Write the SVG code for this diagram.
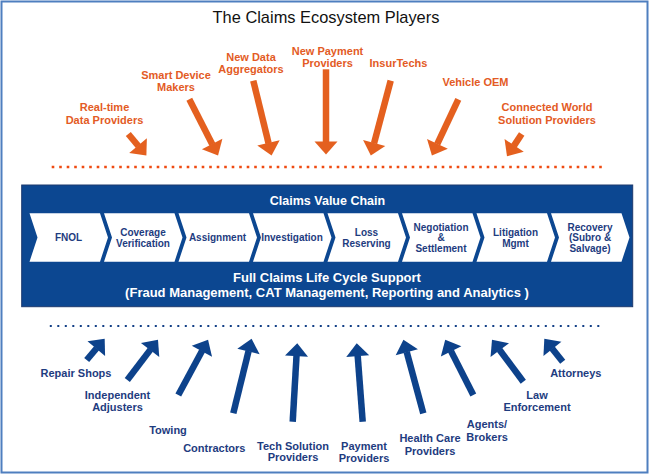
<svg xmlns="http://www.w3.org/2000/svg" width="650" height="474" viewBox="0 0 650 474">
<defs>
<style>
text{font-family:"Liberation Sans",Arial,sans-serif;text-anchor:middle}
.title{font-size:16.4px;fill:#111}
.ot{font-size:11px;font-weight:bold;fill:#e35b25}
.bt{font-size:11px;font-weight:bold;fill:#1e3c80}
.ct{font-size:10px;font-weight:bold;fill:#1e3c80}
.wt{font-weight:bold;fill:#fff}
.chev{fill:#fff}
.oa{stroke:#e4601f;stroke-width:6.5;fill:none}
.ba{stroke:#0d428b;stroke-width:6.5;fill:none}
</style>
<marker id="ho" markerUnits="userSpaceOnUse" markerWidth="14" markerHeight="23" refX="0.5" refY="11.5" orient="auto" overflow="visible"><path d="M0,0 L13,11.5 L0,23 z" fill="#e4601f"/></marker>
<marker id="hb" markerUnits="userSpaceOnUse" markerWidth="14" markerHeight="23" refX="0.5" refY="11.5" orient="auto" overflow="visible"><path d="M0,0 L13,11.5 L0,23 z" fill="#0d428b"/></marker>
<polygon id="chv" points="0,0 70.5,0 78.5,24.2 70.5,48.4 0,48.4 8,24.2"/>
</defs>
<rect x="1.5" y="1.5" width="646" height="471" fill="#fff" stroke="#4f7fbf" stroke-width="2"/>
<text class="title" x="326" y="23">The Claims Ecosystem Players</text>

<g id="top-providers">
<g id="n-realtime"><text class="ot" x="104.5" y="111">Real-time</text><text class="ot" x="104.5" y="123.5">Data Providers</text></g>
<g id="n-smart"><text class="ot" x="176" y="79">Smart Device</text><text class="ot" x="176" y="91">Makers</text></g>
<g id="n-newdata"><text class="ot" x="251" y="61">New Data</text><text class="ot" x="251" y="73.3">Aggregators</text></g>
<g id="n-newpay"><text class="ot" x="327.5" y="55">New Payment</text><text class="ot" x="327.5" y="67.3">Providers</text></g>
<g id="n-insurtech"><text class="ot" x="398.5" y="66.5">InsurTechs</text></g>
<g id="n-vehicle"><text class="ot" x="475.5" y="85.5">Vehicle OEM</text></g>
<g id="n-connected"><text class="ot" x="547" y="111">Connected World</text><text class="ot" x="547" y="124">Solution Providers</text></g>
</g>

<g id="chain">
<rect x="21.7" y="185" width="611" height="121.7" fill="#0c4791" stroke="#1d3a6e" stroke-width="1"/>
<text class="wt" x="327.5" y="204.5" font-size="12.5">Claims Value Chain</text>
<g id="c-fnol"><use href="#chv" class="chev" x="29.5" y="213.3"/><text class="ct" x="68.5" y="240.5">FNOL</text></g>
<g id="c-coverage"><use href="#chv" class="chev" x="104" y="213.3"/><text class="ct" x="143" y="235.5">Coverage</text><text class="ct" x="143" y="246.5">Verification</text></g>
<g id="c-assign"><use href="#chv" class="chev" x="178.5" y="213.3"/><text class="ct" x="217.5" y="240.5">Assignment</text></g>
<g id="c-invest"><use href="#chv" class="chev" x="253" y="213.3"/><text class="ct" x="292" y="240.5">Investigation</text></g>
<g id="c-loss"><use href="#chv" class="chev" x="327.5" y="213.3"/><text class="ct" x="366.5" y="235.5">Loss</text><text class="ct" x="366.5" y="246.5">Reserving</text></g>
<g id="c-nego"><use href="#chv" class="chev" x="402" y="213.3"/><text class="ct" x="441" y="230.5">Negotiation</text><text class="ct" x="441" y="241">&amp;</text><text class="ct" x="441" y="252">Settlement</text></g>
<g id="c-litig"><use href="#chv" class="chev" x="476.5" y="213.3"/><text class="ct" x="515.5" y="235.5">Litigation</text><text class="ct" x="515.5" y="246.5">Mgmt</text></g>
<g id="c-recov"><use href="#chv" class="chev" x="551" y="213.3"/><text class="ct" x="590" y="230.5">Recovery</text><text class="ct" x="590" y="241">(Subro &amp;</text><text class="ct" x="590" y="252">Salvage)</text></g>
<text class="wt" x="327" y="281.5" font-size="13">Full Claims Life Cycle Support</text>
<text class="wt" x="327" y="297" font-size="13">(Fraud Management, CAT Management, Reporting and Analytics )</text>
</g>

<g id="bottom-players">
<g id="n-repair"><text class="bt" x="76" y="376.7">Repair Shops</text></g>
<g id="n-indep"><text class="bt" x="117.5" y="399">Independent</text><text class="bt" x="117.5" y="411.3">Adjusters</text></g>
<g id="n-towing"><text class="bt" x="168" y="434">Towing</text></g>
<g id="n-contract"><text class="bt" x="214.3" y="451.7">Contractors</text></g>
<g id="n-tech"><text class="bt" x="293" y="450">Tech Solution</text><text class="bt" x="293" y="461.3">Providers</text></g>
<g id="n-payment"><text class="bt" x="364" y="450">Payment</text><text class="bt" x="364" y="462">Providers</text></g>
<g id="n-health"><text class="bt" x="430" y="442.3">Health Care</text><text class="bt" x="430" y="454.7">Providers</text></g>
<g id="n-agents"><text class="bt" x="487" y="428">Agents/</text><text class="bt" x="487" y="440.7">Brokers</text></g>
<g id="n-law"><text class="bt" x="537" y="399">Law</text><text class="bt" x="537" y="410.7">Enforcement</text></g>
<g id="n-attorneys"><text class="bt" x="575.8" y="376.7">Attorneys</text></g>
</g>

<g id="connectors">
<line x1="51.7" y1="167" x2="603" y2="167" stroke="#ef4b12" stroke-width="2.6" stroke-dasharray="2.6 4.9"/>
<line x1="49.8" y1="326" x2="603" y2="326" stroke="#123f86" stroke-width="2" stroke-dasharray="2 5.5"/>
<line class="oa" marker-end="url(#ho)" x1="128.3" y1="134" x2="138.36" y2="146.03"/>
<line class="oa" marker-end="url(#ho)" x1="189.3" y1="99.3" x2="212.38" y2="144.43"/>
<line class="oa" marker-end="url(#ho)" x1="253.3" y1="80.7" x2="268.61" y2="143.37"/>
<line class="oa" marker-end="url(#ho)" x1="326" y1="69.3" x2="326" y2="142"/>
<line class="oa" marker-end="url(#ho)" x1="390.7" y1="80.7" x2="374.04" y2="143.44"/>
<line class="oa" marker-end="url(#ho)" x1="458.3" y1="99.3" x2="437.22" y2="144.23"/>
<line class="oa" marker-end="url(#ho)" x1="521.7" y1="134" x2="513.87" y2="145.85"/>
<line class="ba" marker-end="url(#hb)" x1="86.7" y1="360" x2="96.62" y2="348.24"/>
<line class="ba" marker-end="url(#hb)" x1="127.3" y1="380" x2="150.42" y2="349.64"/>
<line class="ba" marker-end="url(#hb)" x1="178.3" y1="395" x2="202.14" y2="350.75"/>
<line class="ba" marker-end="url(#hb)" x1="233.3" y1="413.3" x2="248.6" y2="350.93"/>
<line class="ba" marker-end="url(#hb)" x1="292.7" y1="421.7" x2="296.54" y2="355.68"/>
<line class="ba" marker-end="url(#hb)" x1="362.7" y1="421.7" x2="357.68" y2="355.66"/>
<line class="ba" marker-end="url(#hb)" x1="423.3" y1="413.3" x2="406.69" y2="351.85"/>
<line class="ba" marker-end="url(#hb)" x1="473.3" y1="395" x2="450.89" y2="350.89"/>
<line class="ba" marker-end="url(#hb)" x1="523.3" y1="381.7" x2="499.47" y2="349.72"/>
<line class="ba" marker-end="url(#hb)" x1="562.7" y1="361.7" x2="552.12" y2="348.46"/>
</g>
</svg>
